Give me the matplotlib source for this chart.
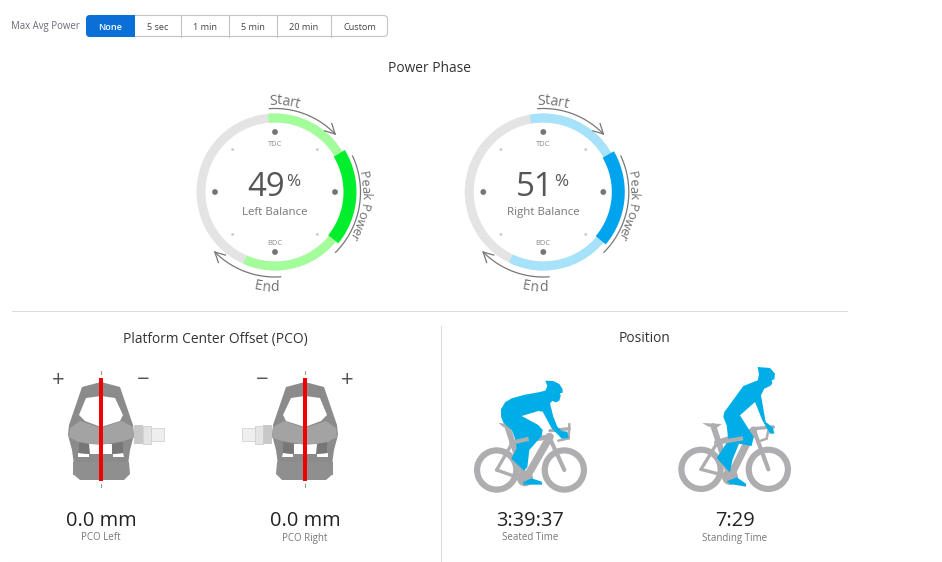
import numpy as np
from matplotlib import pyplot as plt
from matplotlib.patches import Wedge, Circle, Polygon, Rectangle, FancyBboxPatch
from matplotlib.textpath import TextPath
from matplotlib.font_manager import FontProperties

plt.rcParams['font.family'] = ['Open Sans', 'DejaVu Sans']

# the values shown on the page
buttons = ['None', '5 sec', '1 min', '5 min', '20 min', 'Custom']
balance_labels = ['Left Balance', 'Right Balance']
balance_values = [49, 51]
# angles clockwise from top dead centre
phase_start = [-5, -10]
peak_start = [59, 60]
peak_end = [129, 130]
phase_end = [204, 206]
pco_labels = ['PCO Left', 'PCO Right']
pco_values = ['0.0 mm', '0.0 mm']
position_labels = ['Seated Time', 'Standing Time']
position_values = ['3:39:37', '7:29']

GREY = '#e4e4e4'
TXT = '#666666'
BIKE = '#aeaeb0'
RIDER = '#00ade6'

fig = plt.figure(figsize=(9.42, 5.62), dpi=100)
ax = fig.add_axes([0, 0, 1, 1])
ax.set_xlim(0, 942)
ax.set_ylim(562, 0)
ax.axis('off')

def px(s):
    return s * 72. / 100

def label(x, y, s, size, color=TXT, **kw):
    kw.setdefault('ha', 'center')
    ax.text(x, y + 1.5, s, fontsize=px(size), color=color, va='center', **kw)

def ring_xy(cx, cy, r, t):
    t = np.radians(t)
    return cx + r * np.sin(t), cy - r * np.cos(t)

def band(cx, cy, r0, r1, t0, t1, color):
    ax.add_patch(Wedge((cx, cy), r1, t0 - 90, t1 - 90, width=r1 - r0, fc=color, ec='none'))

def arc_arrow(cx, cy, r, t0, t1, head=True):
    t = np.linspace(t0, t1, 60)
    x, y = ring_xy(cx, cy, r, t)
    ax.plot(x, y, color='#777777', lw=0.9, solid_capstyle='round')
    if head:
        # small open arrow head, pointing along the arc
        tip = np.array([x[-1], y[-1]])
        d = np.array([x[-1] - x[-4], y[-1] - y[-4]])
        d = d / np.hypot(*d)
        for a in (28, -28):
            c, s = np.cos(np.radians(a)), np.sin(np.radians(a))
            b = tip - 11 * np.array([c * d[0] - s * d[1], s * d[0] + c * d[1]])
            ax.plot([tip[0], b[0]], [tip[1], b[1]], color='#777777', lw=0.9)

def width(s, size):
    if not s:
        return 0.
    return TextPath((0, 0), s + '|', size=size, prop=FontProperties(family='Open Sans')).get_extents().x1 \
        - TextPath((0, 0), '|', size=size, prop=FontProperties(family='Open Sans')).get_extents().x1

def arc_text(cx, cy, r, t, s, size, flip=False):
    # one letter at a time around the ring
    total = width(s, size)
    for i, c in enumerate(s):
        mid = (width(s[:i], size) + width(s[:i + 1], size)) / 2. - total / 2.
        da = np.degrees(mid / r)
        a = t - da if flip else t + da
        x, y = ring_xy(cx, cy, r, a)
        rot = 180 - a if flip else -a
        ax.text(x, y, c, fontsize=px(size), color='#707070', ha='center', va='center',
                rotation=rot, rotation_mode='anchor')

def power_ring(cx, cy, i, light, dark):
    ax.add_patch(Wedge((cx, cy), 78.5, 0, 360, width=9, fc=GREY, ec='none'))
    band(cx, cy, 69.5, 78.5, phase_start[i], phase_end[i], light)
    band(cx, cy, 68.5, 81.5, peak_start[i], peak_end[i], dark)

    for t in (0, 90, 180, 270):
        x, y = ring_xy(cx, cy, 60, t)
        ax.add_patch(Circle((x, y), 2.9, fc='#757575', ec='none'))
    for t in (45, 135, 225, 315):
        x, y = ring_xy(cx, cy, 60, t)
        ax.add_patch(Circle((x, y), 1.5, fc='#cfcfcf', ec='none'))

    label(cx, cy - 49, 'TDC', 7.5, '#888888')
    label(cx, cy + 50, 'BDC', 7.5, '#888888')
    label(cx - 8.5, cy - 6.5, str(balance_values[i]), 33, '#555555')
    label(cx + 18, cy - 12, '%', 17, '#555555')
    label(cx, cy + 19, balance_labels[i], 11.5, '#777777')

    arc_arrow(cx, cy, 83.5, -4, 46)
    arc_arrow(cx, cy, 85.5, 65, 135, head=False)
    arc_arrow(cx, cy, 85, 176, 225)
    arc_text(cx, cy, 91, 6, 'Start', 14)
    arc_text(cx, cy, 90, 99, 'Peak Power', 13)
    arc_text(cx, cy, 96, 185, 'End', 14, flip=True)

# pedal shapes, in pixels around the pedal centre line (dx, y)
frame_out = [(-19, 22), (0, 17), (19, 22), (32, 60), (33, 70), (29, 85), (27, 100), (28, 110),
             (-28, 110), (-27, 100), (-29, 85), (-33, 70), (-32, 60)]
frame_hole = [(-15, 33), (0, 31), (14, 33), (22, 50), (19, 56), (0, 62), (-16, 56), (-22, 50)]
mid_band = [(-31, 63), (-21, 56), (0, 63), (21, 56), (32, 62), (33, 73), (22, 76), (0, 80), (-21, 78), (-32, 72)]
gap = [(-12, 79), (12, 79), (12, 89), (-12, 89)]
slots = [[(-23, 88), (-12, 89), (-12, 92), (-23, 92)], [(12, 89), (22, 88), (23, 92), (12, 92)]]
legs = [[(-22, 77), (-12, 79), (-11, 89), (-22, 88)], [(11, 79), (22, 77), (22, 88), (11, 89)]]
foot = [(-28, 97), (28, 97), (29, 109), (23, 115), (-21, 115), (-28, 109)]

def pedal(cx, top, side):
    def pts(p):
        return [(cx + side * dx, top + y) for dx, y in p]
    ax.add_patch(Polygon(pts(frame_out), fc='#8b8b8b', ec='none'))
    ax.add_patch(Polygon(pts(frame_hole), fc='white', ec='none'))
    ax.add_patch(Polygon(pts(foot), fc='#8f8f8f', ec='none'))
    ax.add_patch(Polygon(pts(gap), fc='white', ec='none'))
    ax.add_patch(Polygon(pts(mid_band), fc='#a3a3a3', ec='none'))
    for p in slots:
        ax.add_patch(Polygon(pts(p), fc='white', ec='none'))
    for p in legs:
        ax.add_patch(Polygon(pts(p), fc='#777777', ec='none'))
    # spindle
    x0 = cx + side * 33
    ax.add_patch(Rectangle((x0, top + 60), side * 9, 19, fc='#c8c8c8', ec='none'))
    ax.add_patch(Rectangle((x0 + side * 9, top + 61), side * 8, 18, fc='#e4e4e4', ec='#c8c8c8', lw=0.5))
    ax.add_patch(Rectangle((x0 + side * 17, top + 63), side * 13, 13, fc='#eeeeee', ec='#cccccc', lw=0.5))
    # red centre line and its dashes
    ax.add_patch(Rectangle((cx - 2.2, top + 13), 4.4, 103, fc='#f00000', ec='none'))
    ax.plot([cx, cx], [top + 6, top + 9], color='#999999', lw=0.8)
    ax.plot([cx, cx], [top + 119, top + 122], color='#999999', lw=0.8)

seated = {
    'rear': (80, 300), 'front': (283, 300),
    'saddle': [(85, 158), (128, 165), (118, 178), (98, 170)],
    'tubes': [((112, 170), (165, 330), 7), ((125, 218), (240, 200), 6), ((240, 200), (165, 330), 9),
              ((80, 300), (165, 330), 4), ((80, 300), (125, 222), 4), ((235, 195), (283, 300), 5),
              ((240, 182), (298, 176), 4), ((298, 162), (296, 205), 3), ((296, 205), (265, 212), 3)],
    'stub': ((125, 218), (170, 208)),
    'crank': (165, 325),
    'shoe': [(160, 336), (185, 325), (215, 335), (217, 344), (160, 344)],
    'rider': [(226, 62), (205, 67), (165, 74), (125, 85), (105, 97), (93, 118), (93, 140), (100, 158),
              (125, 180), (135, 205), (140, 235), (124, 266), (162, 302), (172, 292), (178, 240),
              (215, 198), (218, 180), (205, 165), (155, 138), (205, 123), (218, 125), (245, 175),
              (265, 195), (275, 206), (296, 204), (292, 185), (275, 183), (262, 170), (250, 140),
              (240, 100), (247, 93), (258, 97), (268, 92), (272, 78), (270, 70), (278, 68), (278, 58),
              (268, 42), (250, 33), (226, 32), (232, 48)],
}
standing = {
    'rear': (78, 322), 'front': (280, 322),
    'saddle': [(82, 183), (140, 186), (125, 198), (98, 193)],
    'tubes': [((115, 192), (165, 345), 7), ((125, 242), (235, 205), 6), ((235, 205), (165, 345), 9),
              ((78, 322), (165, 345), 4), ((78, 322), (125, 245), 4), ((235, 200), (280, 322), 5),
              ((235, 200), (295, 195), 4), ((280, 205), (275, 230), 3), ((275, 230), (258, 236), 3)],
    'stub': ((125, 242), (198, 230)),
    'crank': (165, 345),
    'shoe': [(155, 358), (185, 346), (213, 365), (213, 374), (165, 366)],
    'rider': [(248, 55), (205, 72), (170, 120), (148, 150), (145, 165), (155, 190), (160, 235),
              (125, 288), (165, 332), (172, 295), (192, 245), (230, 252), (236, 225), (195, 160),
              (240, 120), (262, 175), (285, 215), (298, 215), (294, 197), (272, 180), (258, 100), (268, 80),
              (285, 72), (292, 65), (290, 55), (298, 52), (300, 35), (285, 18), (248, 15), (252, 38)],
}

def bike(ox, oy, b):
    def p(pt):
        return (ox + pt[0] / 3., oy + pt[1] / 3.)
    for w in (b['rear'], b['front']):
        ax.add_patch(Wedge(p(w), 22.7, 0, 360, width=6.2, fc=BIKE, ec='none'))
    for w in (b['rear'], b['front']):
        ax.add_patch(Circle(p(w), 1.4, fc=BIKE, ec='none'))
    for a, c, lw in b['tubes']:
        ax.plot([p(a)[0], p(c)[0]], [p(a)[1], p(c)[1]], color=BIKE, lw=lw * 0.6, solid_capstyle='round')
    ax.add_patch(Polygon([p(q) for q in b['saddle']], fc=BIKE, ec='none'))
    ax.add_patch(Circle(p(b['crank']), 8, fc=BIKE, ec='none', zorder=2.5))
    # rider sits over the frame, only the stub of the top tube shows on top
    ax.add_patch(Polygon([p(q) for q in b['shoe']], fc=RIDER, ec='none', zorder=3))
    ax.add_patch(Polygon([p(q) for q in b['rider']], fc=RIDER, ec='none', zorder=3))
    a, c = b['stub']
    ax.plot([p(a)[0], p(c)[0]], [p(a)[1], p(c)[1]], color=BIKE, lw=3, zorder=4)

# top button row
label(11, 25, 'Max Avg Power', 9.6, '#6a6a78', ha='left')
edges = [86, 135, 181, 229, 277, 331, 388]
ax.add_patch(FancyBboxPatch((86.5, 15.5), 301, 21, boxstyle='round,pad=0,rounding_size=4', fc='white', ec='#c4c4c4', lw=0.8))
ax.add_patch(FancyBboxPatch((86, 15), 49, 22, boxstyle='round,pad=0,rounding_size=4', fc='#0a6fd6', ec='none'))
ax.add_patch(Rectangle((125, 15), 10, 22, fc='#0a6fd6', ec='none'))
for e in edges[2:-1]:
    ax.plot([e, e], [15.5, 36.5], color='#c4c4c4', lw=0.8)
for i, name in enumerate(buttons):
    label((edges[i] + edges[i + 1]) / 2., 25.5, name, 9.2, 'white' if i == 0 else '#444444',
          fontweight='semibold' if i == 0 else 'normal')

label(429.5, 67.5, 'Power Phase', 13.8, '#333333')
power_ring(275, 192, 0, '#a4fd9b', '#00ee2b')
power_ring(543.3, 192, 1, '#a6e2fa', '#00a4ee')

# dividers
ax.plot([12, 847], [310.5, 310.5], color='#dcdcdc', lw=0.75)
ax.plot([441, 441], [326, 561], color='#dcdcdc', lw=0.75)
ax.plot([12, 942], [561.5, 561.5], color='#dcdcdc', lw=0.75)

label(215.5, 337.5, 'Platform Center Offset (PCO)', 13.8, '#333333')
label(644, 337.5, 'Position', 13.8, '#333333')

pedal(101, 365, 1)
pedal(305, 365, -1)

label(58, 379, '+', 22, '#555555')
label(143, 379, '\u2212', 22, '#555555')
label(262, 379, '\u2212', 22, '#555555')
label(347, 379, '+', 22, '#555555')

bike(470, 370, seated)
bike(675, 362, standing)

for x, s, n in zip([101, 305], pco_values, pco_labels):
    label(x, 519.5, s, 20, '#222222')
    label(x, 536.5, n, 9.8, '#777777')
for x, s, n in zip([530, 735], position_values, position_labels):
    label(x, 519.5, s, 20, '#222222')
    label(x, 536.5, n, 9.8, '#777777')

fig.savefig('out.png', dpi=100)
